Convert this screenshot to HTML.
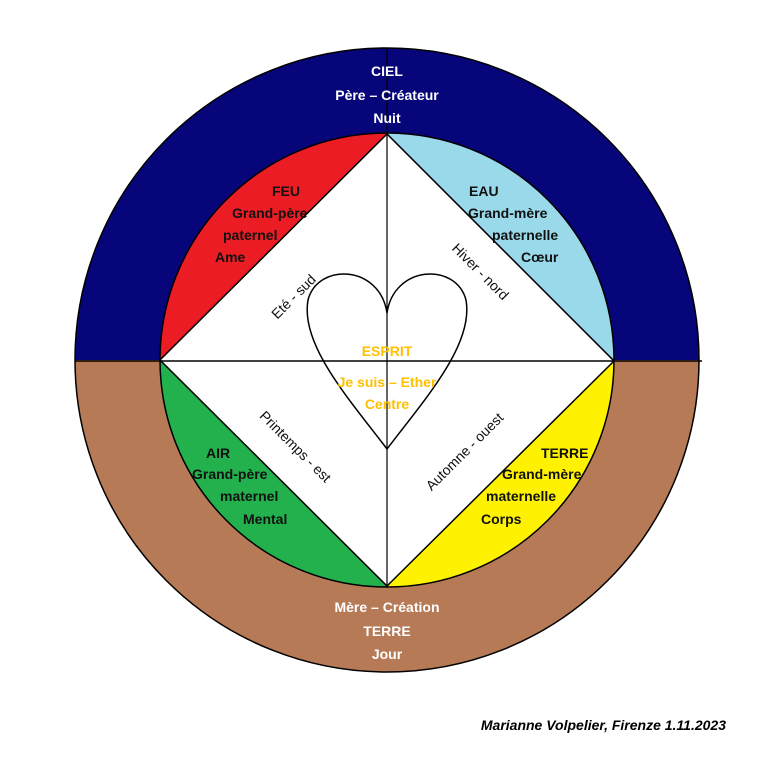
<!DOCTYPE html>
<html><head><meta charset="utf-8"><style>
body{margin:0;background:#fff}
svg{display:block}
text{font-family:"Liberation Sans",sans-serif;font-size:14px}
.b{font-weight:bold}
</style></head><body>
<svg width="773" height="767" viewBox="0 0 773 767">
<path d="M75 360 A312 312 0 0 1 699 360 Z" fill="#06067a"/>
<path d="M75 360 A312 312 0 0 0 699 360 Z" fill="#b77a57"/>
<circle cx="387" cy="360" r="312" fill="none" stroke="#000" stroke-width="1.5"/>
<path d="M160 360 A227 227 0 0 1 387 133 Z" fill="#ec1c24"/>
<path d="M387 133 A227 227 0 0 1 614 360 Z" fill="#99d9ea"/>
<path d="M160 360 A227 227 0 0 0 387 587 Z" fill="#22b14c"/>
<path d="M387 587 A227 227 0 0 0 614 360 Z" fill="#fff200"/>
<circle cx="387" cy="360" r="227" fill="none" stroke="#000" stroke-width="1.5"/>
<polygon points="387,134 614,361 387,586 160,360" fill="#fff" stroke="#000" stroke-width="1.5"/>
<line x1="75" y1="361" x2="702" y2="361" stroke="#000" stroke-width="1.5"/>
<line x1="387" y1="48" x2="387" y2="586" stroke="#000" stroke-width="1.2"/>
<path d="M387 313 C380 265 318 262 308 300 C300 345 350 400 387 449 C424 400 474 345 466 300 C456 262 394 265 387 313 Z" fill="none" stroke="#000" stroke-width="1.5"/>
<g class="b" fill="#fff" text-anchor="middle">
<text x="387" y="76">CIEL</text>
<text x="387" y="100">Père – Créateur</text>
<text x="387" y="123">Nuit</text>
<text x="387" y="612">Mère – Création</text>
<text x="387" y="636">TERRE</text>
<text x="387" y="659">Jour</text>
</g>
<g class="b" fill="#111">
<text x="272" y="196">FEU</text>
<text x="232" y="218">Grand-père</text>
<text x="223" y="240">paternel</text>
<text x="215" y="262">Ame</text>
<text x="469" y="196">EAU</text>
<text x="468" y="218">Grand-mère</text>
<text x="492" y="240">paternelle</text>
<text x="521" y="262">Cœur</text>
<text x="206" y="458">AIR</text>
<text x="192" y="479">Grand-père</text>
<text x="220" y="501">maternel</text>
<text x="243" y="524">Mental</text>
<text x="541" y="458">TERRE</text>
<text x="502" y="479">Grand-mère</text>
<text x="486" y="501">maternelle</text>
<text x="481" y="524">Corps</text>
</g>
<g fill="#111">
<text transform="translate(297,300) rotate(-45)" text-anchor="middle">Eté - sud</text>
<text transform="translate(477,275) rotate(45)" text-anchor="middle">Hiver - nord</text>
<text transform="translate(292,450) rotate(45)" text-anchor="middle">Printemps - est</text>
<text transform="translate(468,455) rotate(-45)" text-anchor="middle">Automne - ouest</text>
</g>
<g class="b" fill="#ffc000" text-anchor="middle">
<text x="387" y="356">ESPRIT</text>
<text x="387" y="387">Je suis – Ether</text>
<text x="387" y="409">Centre</text>
</g>
<text x="726" y="730" text-anchor="end" class="b" font-style="italic" fill="#000">Marianne Volpelier, Firenze 1.11.2023</text>
</svg>
</body></html>
